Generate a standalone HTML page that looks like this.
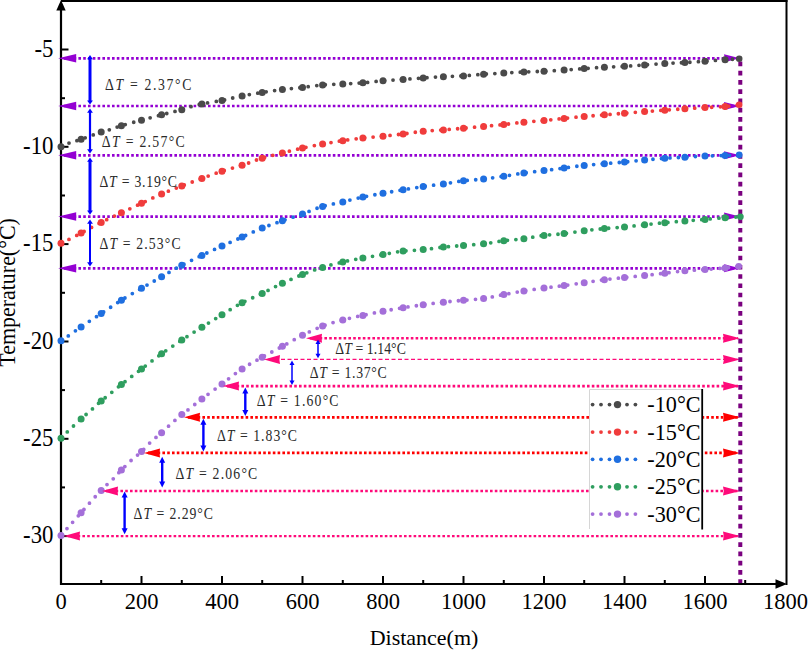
<!DOCTYPE html><html><head><meta charset="utf-8"><style>html,body{margin:0;padding:0;background:#fff;overflow:hidden;}svg{display:block;}text{font-family:"Liberation Serif",serif;}</style></head><body>
<svg width="808" height="651" viewBox="0 0 808 651">
<rect width="808" height="651" fill="#fff"/>
<line x1="61" y1="1" x2="787.5" y2="1" stroke="#000" stroke-width="2"/>
<line x1="786.5" y1="0" x2="786.5" y2="585" stroke="#000" stroke-width="2"/>
<line x1="61" y1="8" x2="61" y2="585" stroke="#000" stroke-width="2.2"/>
<line x1="60" y1="584" x2="778" y2="584" stroke="#000" stroke-width="2.2"/>
<path d="M61,0 L56.3,10.5 L65.7,10.5 Z" fill="#000"/>
<path d="M787,584 L775.5,579.3 L775.5,588.7 Z" fill="#000"/>
<line x1="62" y1="49.5" x2="68.5" y2="49.5" stroke="#000" stroke-width="2"/>
<line x1="62" y1="98.2" x2="65.0" y2="98.2" stroke="#000" stroke-width="2"/>
<line x1="62" y1="146.8" x2="68.5" y2="146.8" stroke="#000" stroke-width="2"/>
<line x1="62" y1="195.5" x2="65.0" y2="195.5" stroke="#000" stroke-width="2"/>
<line x1="62" y1="244.1" x2="68.5" y2="244.1" stroke="#000" stroke-width="2"/>
<line x1="62" y1="292.8" x2="65.0" y2="292.8" stroke="#000" stroke-width="2"/>
<line x1="62" y1="341.5" x2="68.5" y2="341.5" stroke="#000" stroke-width="2"/>
<line x1="62" y1="390.1" x2="65.0" y2="390.1" stroke="#000" stroke-width="2"/>
<line x1="62" y1="438.8" x2="68.5" y2="438.8" stroke="#000" stroke-width="2"/>
<line x1="62" y1="487.4" x2="65.0" y2="487.4" stroke="#000" stroke-width="2"/>
<line x1="62" y1="536.1" x2="68.5" y2="536.1" stroke="#000" stroke-width="2"/>
<line x1="101.2" y1="583" x2="101.2" y2="580.0" stroke="#000" stroke-width="2"/>
<line x1="141.5" y1="583" x2="141.5" y2="576.0" stroke="#000" stroke-width="2"/>
<line x1="181.8" y1="583" x2="181.8" y2="580.0" stroke="#000" stroke-width="2"/>
<line x1="222.0" y1="583" x2="222.0" y2="576.0" stroke="#000" stroke-width="2"/>
<line x1="262.2" y1="583" x2="262.2" y2="580.0" stroke="#000" stroke-width="2"/>
<line x1="302.5" y1="583" x2="302.5" y2="576.0" stroke="#000" stroke-width="2"/>
<line x1="342.8" y1="583" x2="342.8" y2="580.0" stroke="#000" stroke-width="2"/>
<line x1="383.0" y1="583" x2="383.0" y2="576.0" stroke="#000" stroke-width="2"/>
<line x1="423.2" y1="583" x2="423.2" y2="580.0" stroke="#000" stroke-width="2"/>
<line x1="463.5" y1="583" x2="463.5" y2="576.0" stroke="#000" stroke-width="2"/>
<line x1="503.8" y1="583" x2="503.8" y2="580.0" stroke="#000" stroke-width="2"/>
<line x1="544.0" y1="583" x2="544.0" y2="576.0" stroke="#000" stroke-width="2"/>
<line x1="584.2" y1="583" x2="584.2" y2="580.0" stroke="#000" stroke-width="2"/>
<line x1="624.5" y1="583" x2="624.5" y2="576.0" stroke="#000" stroke-width="2"/>
<line x1="664.8" y1="583" x2="664.8" y2="580.0" stroke="#000" stroke-width="2"/>
<line x1="705.0" y1="583" x2="705.0" y2="576.0" stroke="#000" stroke-width="2"/>
<line x1="745.2" y1="583" x2="745.2" y2="580.0" stroke="#000" stroke-width="2"/>
<line x1="64" y1="58.3" x2="738.0" y2="58.3" stroke="#9400d3" stroke-width="2.7" stroke-dasharray="2.6 2.2"/>
<line x1="64" y1="106.0" x2="738.0" y2="106.0" stroke="#9400d3" stroke-width="2.7" stroke-dasharray="2.6 2.2"/>
<line x1="64" y1="155.3" x2="738.0" y2="155.3" stroke="#9400d3" stroke-width="2.7" stroke-dasharray="2.6 2.2"/>
<line x1="64" y1="216.6" x2="738.0" y2="216.6" stroke="#9400d3" stroke-width="2.7" stroke-dasharray="2.6 2.2"/>
<line x1="64" y1="268.3" x2="738.0" y2="268.3" stroke="#9400d3" stroke-width="2.7" stroke-dasharray="2.6 2.2"/>
<line x1="310.0" y1="338.2" x2="738.0" y2="338.2" stroke="#ff0a7a" stroke-width="2.6" stroke-dasharray="2.6 2.2"/>
<line x1="268.0" y1="359.4" x2="738.0" y2="359.4" stroke="#ff0a7a" stroke-width="1.3" stroke-dasharray="4 2.5"/>
<line x1="227.0" y1="386.1" x2="738.0" y2="386.1" stroke="#ff0a7a" stroke-width="2.6" stroke-dasharray="2.6 2.2"/>
<line x1="188.0" y1="417.3" x2="738.0" y2="417.3" stroke="#ff0000" stroke-width="2.8" stroke-dasharray="2.6 2.2"/>
<line x1="148.0" y1="452.9" x2="738.0" y2="452.9" stroke="#ff0000" stroke-width="2.8" stroke-dasharray="2.6 2.2"/>
<line x1="106.0" y1="491.0" x2="738.0" y2="491.0" stroke="#ff0a7a" stroke-width="2.4" stroke-dasharray="2.6 2.2"/>
<line x1="68.0" y1="536.1" x2="738.0" y2="536.1" stroke="#ff0a7a" stroke-width="2.4" stroke-dasharray="2.6 2.2"/>
<path d="M740.0,338.2 L723.0,333.7 Q724.5,338.2 723.0,342.7 Z" fill="#ff0a7a"/>
<path d="M740.0,359.4 L723.0,354.9 Q724.5,359.4 723.0,363.9 Z" fill="#ff0a7a"/>
<path d="M740.0,386.1 L723.0,381.6 Q724.5,386.1 723.0,390.6 Z" fill="#ff0a7a"/>
<path d="M740.0,417.3 L723.0,412.8 Q724.5,417.3 723.0,421.8 Z" fill="#ff0000"/>
<path d="M740.0,452.9 L723.0,448.4 Q724.5,452.9 723.0,457.4 Z" fill="#ff0000"/>
<path d="M740.0,491.0 L723.0,486.5 Q724.5,491.0 723.0,495.5 Z" fill="#ff0a7a"/>
<path d="M740.0,536.1 L723.0,531.6 Q724.5,536.1 723.0,540.6 Z" fill="#ff0a7a"/>
<line x1="740.3" y1="57" x2="740.3" y2="583" stroke="#7a007f" stroke-width="4" stroke-dasharray="4.7 4.545" stroke-dashoffset="4.745"/>
<path d="M58.2,58.3 L76.2,54.0 L76.2,62.5 Z" fill="#9400d3"/>
<path d="M740.0,58.3 L724.0,54.3 Q725.5,58.3 724.0,62.3 Z" fill="#9400d3"/>
<path d="M58.2,106.0 L76.2,101.8 L76.2,110.2 Z" fill="#9400d3"/>
<path d="M740.0,106.0 L724.0,102.0 Q725.5,106.0 724.0,110.0 Z" fill="#9400d3"/>
<path d="M58.2,155.3 L76.2,151.1 L76.2,159.6 Z" fill="#9400d3"/>
<path d="M740.0,155.3 L724.0,151.3 Q725.5,155.3 724.0,159.3 Z" fill="#9400d3"/>
<path d="M58.2,216.6 L76.2,212.3 L76.2,220.8 Z" fill="#9400d3"/>
<path d="M740.0,216.6 L724.0,212.6 Q725.5,216.6 724.0,220.6 Z" fill="#9400d3"/>
<path d="M58.2,268.3 L76.2,264.1 L76.2,272.6 Z" fill="#9400d3"/>
<path d="M740.0,268.3 L724.0,264.3 Q725.5,268.3 724.0,272.3 Z" fill="#9400d3"/>
<path d="M61.4,146.8 C62.6,146.2 65.3,144.5 68.5,143.3 C71.7,142.1 75.5,141.2 80.8,139.4 C86.1,137.6 95.4,134.0 100.2,132.4 C105.0,130.8 106.3,130.8 109.8,129.7 C113.3,128.6 116.2,127.2 121.3,125.7 C126.4,124.2 133.9,122.2 140.6,120.4 C147.3,118.6 155.0,116.5 161.7,114.8 C168.4,113.0 174.8,111.6 181.0,109.9 C187.2,108.2 191.7,106.2 198.6,104.6 C205.5,103.0 215.2,101.8 222.3,100.4 C229.4,99.0 234.8,97.3 241.4,96.0 C248.0,94.7 254.9,93.7 261.6,92.6 C268.3,91.5 275.2,90.4 281.8,89.6 C288.4,88.8 294.3,88.4 301.0,87.6 C307.7,86.8 315.3,85.6 322.2,85.0 C329.1,84.4 335.6,84.3 342.3,84.0 C349.0,83.7 355.5,83.4 362.2,82.9 C368.9,82.4 375.9,81.4 382.6,80.8 C389.3,80.2 395.8,79.9 402.5,79.4 C409.2,78.9 416.1,78.5 422.9,78.0 C429.7,77.5 436.4,77.0 443.1,76.7 C449.8,76.4 456.2,76.3 462.9,75.9 C469.6,75.5 476.6,74.7 483.4,74.2 C490.2,73.7 497.1,73.5 503.8,73.1 C510.5,72.7 516.9,72.3 523.6,72.0 C530.3,71.7 537.5,71.5 544.2,71.2 C551.0,70.9 557.5,70.4 564.1,70.0 C570.7,69.6 577.4,69.1 584.0,68.6 C590.6,68.1 597.2,67.6 604.0,67.2 C610.8,66.8 618.1,66.7 624.8,66.3 C631.5,65.9 637.7,65.4 644.4,64.9 C651.1,64.4 658.5,63.9 665.2,63.5 C671.9,63.1 677.9,63.0 684.5,62.6 C691.1,62.2 698.2,61.7 705.0,61.2 C711.8,60.7 719.3,60.2 725.0,59.8 C730.7,59.4 736.8,58.9 739.2,58.7" fill="none" stroke="#4a4a4a" stroke-width="3.8" stroke-linecap="round" stroke-dasharray="0 8.5"/>
<circle cx="61.0" cy="146.8" r="3.5" fill="#4a4a4a"/>
<circle cx="81.1" cy="139.3" r="3.5" fill="#4a4a4a"/>
<circle cx="101.2" cy="132.1" r="3.5" fill="#4a4a4a"/>
<circle cx="121.4" cy="125.7" r="3.5" fill="#4a4a4a"/>
<circle cx="141.5" cy="120.2" r="3.5" fill="#4a4a4a"/>
<circle cx="161.6" cy="114.8" r="3.5" fill="#4a4a4a"/>
<circle cx="181.8" cy="109.7" r="3.5" fill="#4a4a4a"/>
<circle cx="201.9" cy="104.0" r="3.5" fill="#4a4a4a"/>
<circle cx="222.0" cy="100.5" r="3.5" fill="#4a4a4a"/>
<circle cx="242.1" cy="95.9" r="3.5" fill="#4a4a4a"/>
<circle cx="262.2" cy="92.5" r="3.5" fill="#4a4a4a"/>
<circle cx="282.4" cy="89.5" r="3.5" fill="#4a4a4a"/>
<circle cx="302.5" cy="87.4" r="3.5" fill="#4a4a4a"/>
<circle cx="322.6" cy="85.0" r="3.5" fill="#4a4a4a"/>
<circle cx="342.8" cy="84.0" r="3.5" fill="#4a4a4a"/>
<circle cx="362.9" cy="82.8" r="3.5" fill="#4a4a4a"/>
<circle cx="383.0" cy="80.8" r="3.5" fill="#4a4a4a"/>
<circle cx="403.1" cy="79.4" r="3.5" fill="#4a4a4a"/>
<circle cx="423.2" cy="78.0" r="3.5" fill="#4a4a4a"/>
<circle cx="443.4" cy="76.7" r="3.5" fill="#4a4a4a"/>
<circle cx="463.5" cy="75.9" r="3.5" fill="#4a4a4a"/>
<circle cx="483.6" cy="74.2" r="3.5" fill="#4a4a4a"/>
<circle cx="503.8" cy="73.1" r="3.5" fill="#4a4a4a"/>
<circle cx="523.9" cy="72.0" r="3.5" fill="#4a4a4a"/>
<circle cx="544.0" cy="71.2" r="3.5" fill="#4a4a4a"/>
<circle cx="564.1" cy="70.0" r="3.5" fill="#4a4a4a"/>
<circle cx="584.2" cy="68.6" r="3.5" fill="#4a4a4a"/>
<circle cx="604.4" cy="67.2" r="3.5" fill="#4a4a4a"/>
<circle cx="624.5" cy="66.3" r="3.5" fill="#4a4a4a"/>
<circle cx="644.6" cy="64.9" r="3.5" fill="#4a4a4a"/>
<circle cx="664.8" cy="63.5" r="3.5" fill="#4a4a4a"/>
<circle cx="684.9" cy="62.6" r="3.5" fill="#4a4a4a"/>
<circle cx="705.0" cy="61.2" r="3.5" fill="#4a4a4a"/>
<circle cx="725.1" cy="59.8" r="3.5" fill="#4a4a4a"/>
<circle cx="739.2" cy="58.7" r="3.3" fill="#4a4a4a"/>
<path d="M61.5,243.3 C64.8,241.6 74.5,236.6 81.1,233.1 C87.6,229.6 94.2,225.9 100.8,222.6 C107.4,219.2 114.2,216.2 120.9,213.0 C127.7,209.8 134.7,206.5 141.3,203.4 C147.9,200.3 153.8,197.3 160.4,194.5 C167.0,191.7 174.0,188.9 180.8,186.3 C187.6,183.7 194.4,181.2 201.2,178.7 C208.0,176.2 214.8,173.5 221.6,171.3 C228.4,169.1 235.4,167.4 242.0,165.3 C248.6,163.2 254.5,160.5 261.1,158.5 C267.7,156.5 274.7,154.8 281.5,153.1 C288.3,151.4 295.1,149.7 301.9,148.2 C308.7,146.7 315.8,145.3 322.4,144.1 C329.0,142.9 335.2,141.8 341.8,140.8 C348.4,139.8 355.4,138.9 362.2,138.1 C369.0,137.3 375.8,136.9 382.6,136.2 C389.4,135.5 396.3,134.8 403.0,134.0 C409.7,133.2 416.2,132.0 422.9,131.3 C429.6,130.6 436.4,130.4 443.1,129.9 C449.8,129.4 456.2,128.9 462.9,128.3 C469.6,127.7 476.6,127.0 483.4,126.4 C490.2,125.8 497.1,125.2 503.8,124.5 C510.5,123.8 516.8,122.9 523.5,122.2 C530.2,121.5 537.6,121.1 544.2,120.5 C550.8,119.9 556.7,119.2 563.3,118.5 C569.9,117.8 577.1,117.1 584.0,116.5 C590.9,115.9 598.1,115.3 604.8,114.8 C611.4,114.3 617.3,113.8 623.9,113.3 C630.5,112.8 637.6,112.1 644.4,111.6 C651.2,111.1 657.9,110.7 664.6,110.2 C671.3,109.7 677.8,109.2 684.5,108.8 C691.2,108.4 698.2,108.0 705.0,107.6 C711.8,107.2 719.8,107.0 725.5,106.5 C731.2,106.0 736.9,105.1 739.2,104.8" fill="none" stroke="#f03c3c" stroke-width="3.8" stroke-linecap="round" stroke-dasharray="0 8.5"/>
<circle cx="61.0" cy="243.3" r="3.5" fill="#f03c3c"/>
<circle cx="81.1" cy="233.1" r="3.5" fill="#f03c3c"/>
<circle cx="101.2" cy="222.4" r="3.5" fill="#f03c3c"/>
<circle cx="121.4" cy="212.8" r="3.5" fill="#f03c3c"/>
<circle cx="141.5" cy="203.3" r="3.5" fill="#f03c3c"/>
<circle cx="161.6" cy="194.0" r="3.5" fill="#f03c3c"/>
<circle cx="181.8" cy="185.9" r="3.5" fill="#f03c3c"/>
<circle cx="201.9" cy="178.5" r="3.5" fill="#f03c3c"/>
<circle cx="222.0" cy="171.2" r="3.5" fill="#f03c3c"/>
<circle cx="242.1" cy="165.3" r="3.5" fill="#f03c3c"/>
<circle cx="262.2" cy="158.2" r="3.5" fill="#f03c3c"/>
<circle cx="282.4" cy="152.9" r="3.5" fill="#f03c3c"/>
<circle cx="302.5" cy="148.1" r="3.5" fill="#f03c3c"/>
<circle cx="322.6" cy="144.1" r="3.5" fill="#f03c3c"/>
<circle cx="342.8" cy="140.7" r="3.5" fill="#f03c3c"/>
<circle cx="362.9" cy="138.0" r="3.5" fill="#f03c3c"/>
<circle cx="383.0" cy="136.2" r="3.5" fill="#f03c3c"/>
<circle cx="403.1" cy="134.0" r="3.5" fill="#f03c3c"/>
<circle cx="423.2" cy="131.3" r="3.5" fill="#f03c3c"/>
<circle cx="443.4" cy="129.9" r="3.5" fill="#f03c3c"/>
<circle cx="463.5" cy="128.2" r="3.5" fill="#f03c3c"/>
<circle cx="483.6" cy="126.4" r="3.5" fill="#f03c3c"/>
<circle cx="503.8" cy="124.5" r="3.5" fill="#f03c3c"/>
<circle cx="523.9" cy="122.2" r="3.5" fill="#f03c3c"/>
<circle cx="544.0" cy="120.5" r="3.5" fill="#f03c3c"/>
<circle cx="564.1" cy="118.4" r="3.5" fill="#f03c3c"/>
<circle cx="584.2" cy="116.5" r="3.5" fill="#f03c3c"/>
<circle cx="604.4" cy="114.8" r="3.5" fill="#f03c3c"/>
<circle cx="624.5" cy="113.3" r="3.5" fill="#f03c3c"/>
<circle cx="644.6" cy="111.6" r="3.5" fill="#f03c3c"/>
<circle cx="664.8" cy="110.2" r="3.5" fill="#f03c3c"/>
<circle cx="684.9" cy="108.8" r="3.5" fill="#f03c3c"/>
<circle cx="705.0" cy="107.6" r="3.5" fill="#f03c3c"/>
<circle cx="725.1" cy="106.5" r="3.5" fill="#f03c3c"/>
<circle cx="739.2" cy="104.8" r="3.3" fill="#f03c3c"/>
<path d="M61.5,340.8 C64.7,338.5 74.0,331.7 80.6,327.2 C87.1,322.7 94.1,318.3 100.8,313.9 C107.5,309.5 113.8,304.9 120.6,300.7 C127.3,296.4 134.7,292.3 141.3,288.4 C147.9,284.5 153.8,281.3 160.4,277.5 C167.0,273.7 174.0,269.4 180.8,265.8 C187.6,262.2 194.4,259.0 201.2,255.7 C208.0,252.4 214.8,249.3 221.6,246.2 C228.4,243.1 235.4,240.1 242.0,237.2 C248.6,234.2 254.5,231.2 261.1,228.5 C267.7,225.8 274.7,223.5 281.5,221.1 C288.3,218.7 295.1,216.5 301.9,214.1 C308.7,211.7 315.6,208.5 322.3,206.5 C329.0,204.5 335.2,203.7 341.8,202.1 C348.4,200.5 355.4,198.6 362.2,197.2 C369.0,195.8 375.8,194.6 382.6,193.4 C389.4,192.2 396.3,190.9 403.0,189.8 C409.7,188.7 416.2,187.6 422.9,186.6 C429.6,185.6 436.4,184.8 443.1,183.9 C449.8,183.0 456.2,181.7 462.9,180.9 C469.6,180.1 476.6,179.8 483.4,179.0 C490.2,178.2 497.1,177.2 503.8,176.2 C510.5,175.2 516.8,174.0 523.5,173.1 C530.2,172.2 537.4,171.4 544.2,170.6 C551.0,169.8 557.5,168.9 564.1,168.0 C570.7,167.1 577.4,166.1 584.0,165.4 C590.6,164.7 597.1,164.3 604.0,163.7 C610.9,163.1 618.6,162.6 625.3,162.0 C632.0,161.4 637.8,160.6 644.4,160.0 C651.0,159.4 657.9,158.8 664.6,158.3 C671.3,157.8 677.8,157.6 684.5,157.2 C691.2,156.8 698.2,156.3 705.0,156.0 C711.8,155.7 719.8,155.7 725.5,155.5 C731.2,155.3 736.9,155.0 739.2,154.9" fill="none" stroke="#1f6fe0" stroke-width="3.8" stroke-linecap="round" stroke-dasharray="0 8.5"/>
<circle cx="61.0" cy="340.8" r="3.5" fill="#1f6fe0"/>
<circle cx="81.1" cy="326.9" r="3.5" fill="#1f6fe0"/>
<circle cx="101.2" cy="313.6" r="3.5" fill="#1f6fe0"/>
<circle cx="121.4" cy="300.2" r="3.5" fill="#1f6fe0"/>
<circle cx="141.5" cy="288.3" r="3.5" fill="#1f6fe0"/>
<circle cx="161.6" cy="276.8" r="3.5" fill="#1f6fe0"/>
<circle cx="181.8" cy="265.3" r="3.5" fill="#1f6fe0"/>
<circle cx="201.9" cy="255.4" r="3.5" fill="#1f6fe0"/>
<circle cx="222.0" cy="246.0" r="3.5" fill="#1f6fe0"/>
<circle cx="242.1" cy="237.1" r="3.5" fill="#1f6fe0"/>
<circle cx="262.2" cy="228.1" r="3.5" fill="#1f6fe0"/>
<circle cx="282.4" cy="220.8" r="3.5" fill="#1f6fe0"/>
<circle cx="302.5" cy="213.9" r="3.5" fill="#1f6fe0"/>
<circle cx="322.6" cy="206.4" r="3.5" fill="#1f6fe0"/>
<circle cx="342.8" cy="201.9" r="3.5" fill="#1f6fe0"/>
<circle cx="362.9" cy="197.1" r="3.5" fill="#1f6fe0"/>
<circle cx="383.0" cy="193.3" r="3.5" fill="#1f6fe0"/>
<circle cx="403.1" cy="189.8" r="3.5" fill="#1f6fe0"/>
<circle cx="423.2" cy="186.6" r="3.5" fill="#1f6fe0"/>
<circle cx="443.4" cy="183.9" r="3.5" fill="#1f6fe0"/>
<circle cx="463.5" cy="180.8" r="3.5" fill="#1f6fe0"/>
<circle cx="483.6" cy="179.0" r="3.5" fill="#1f6fe0"/>
<circle cx="503.8" cy="176.2" r="3.5" fill="#1f6fe0"/>
<circle cx="523.9" cy="173.1" r="3.5" fill="#1f6fe0"/>
<circle cx="544.0" cy="170.6" r="3.5" fill="#1f6fe0"/>
<circle cx="564.1" cy="168.0" r="3.5" fill="#1f6fe0"/>
<circle cx="584.2" cy="165.4" r="3.5" fill="#1f6fe0"/>
<circle cx="604.4" cy="163.7" r="3.5" fill="#1f6fe0"/>
<circle cx="624.5" cy="162.1" r="3.5" fill="#1f6fe0"/>
<circle cx="644.6" cy="160.0" r="3.5" fill="#1f6fe0"/>
<circle cx="664.8" cy="158.3" r="3.5" fill="#1f6fe0"/>
<circle cx="684.9" cy="157.2" r="3.5" fill="#1f6fe0"/>
<circle cx="705.0" cy="156.0" r="3.5" fill="#1f6fe0"/>
<circle cx="725.1" cy="155.5" r="3.5" fill="#1f6fe0"/>
<circle cx="739.2" cy="154.9" r="3.3" fill="#1f6fe0"/>
<path d="M61.8,438.3 C62.6,437.3 63.8,435.4 66.9,432.3 C70.0,429.2 76.2,423.4 80.5,419.5 C84.8,415.6 89.2,411.8 92.5,408.9 C95.8,405.9 95.6,405.7 100.3,401.8 C105.0,397.9 113.7,390.7 120.4,385.3 C127.1,379.9 133.9,374.8 140.7,369.6 C147.5,364.4 154.2,359.1 161.0,354.2 C167.8,349.3 174.7,344.8 181.5,340.3 C188.3,335.8 195.1,331.4 201.8,327.2 C208.5,323.0 215.1,318.9 221.7,314.9 C228.3,310.9 234.5,306.8 241.2,303.2 C247.9,299.6 255.3,296.8 262.0,293.5 C268.7,290.2 274.8,286.8 281.5,283.7 C288.2,280.6 295.6,277.3 302.3,274.6 C309.0,271.9 315.0,269.7 321.7,267.6 C328.4,265.5 335.8,263.7 342.5,262.1 C349.2,260.5 355.3,259.4 362.0,258.2 C368.7,256.9 376.1,255.8 382.8,254.6 C389.5,253.4 395.7,252.0 402.3,251.2 C408.9,250.4 415.7,250.4 422.6,249.7 C429.5,249.0 437.0,247.8 443.7,247.1 C450.4,246.4 455.9,246.1 462.6,245.5 C469.3,244.9 476.9,244.6 483.7,243.8 C490.5,243.0 496.8,241.7 503.4,240.8 C510.0,240.0 516.9,239.6 523.6,238.7 C530.3,237.8 537.1,236.2 543.8,235.4 C550.5,234.6 556.8,234.5 563.6,233.7 C570.4,232.9 577.9,231.5 584.7,230.7 C591.5,229.8 597.8,229.2 604.4,228.6 C611.0,228.0 617.9,227.5 624.6,226.9 C631.3,226.3 638.1,225.5 644.8,224.8 C651.5,224.1 658.0,223.3 664.6,222.7 C671.2,222.1 677.7,221.6 684.4,221.0 C691.1,220.4 697.7,220.0 704.6,219.4 C711.5,218.8 719.7,218.1 725.7,217.7 C731.7,217.3 738.0,217.0 740.4,216.8" fill="none" stroke="#2f9e5f" stroke-width="3.8" stroke-linecap="round" stroke-dasharray="0 8.5"/>
<circle cx="61.0" cy="438.3" r="3.5" fill="#2f9e5f"/>
<circle cx="81.1" cy="418.9" r="3.5" fill="#2f9e5f"/>
<circle cx="101.2" cy="401.0" r="3.5" fill="#2f9e5f"/>
<circle cx="121.4" cy="384.5" r="3.5" fill="#2f9e5f"/>
<circle cx="141.5" cy="369.0" r="3.5" fill="#2f9e5f"/>
<circle cx="161.6" cy="353.8" r="3.5" fill="#2f9e5f"/>
<circle cx="181.8" cy="340.1" r="3.5" fill="#2f9e5f"/>
<circle cx="201.9" cy="327.2" r="3.5" fill="#2f9e5f"/>
<circle cx="222.0" cy="314.7" r="3.5" fill="#2f9e5f"/>
<circle cx="242.1" cy="302.8" r="3.5" fill="#2f9e5f"/>
<circle cx="262.2" cy="293.4" r="3.5" fill="#2f9e5f"/>
<circle cx="282.4" cy="283.3" r="3.5" fill="#2f9e5f"/>
<circle cx="302.5" cy="274.5" r="3.5" fill="#2f9e5f"/>
<circle cx="322.6" cy="267.4" r="3.5" fill="#2f9e5f"/>
<circle cx="342.8" cy="262.1" r="3.5" fill="#2f9e5f"/>
<circle cx="362.9" cy="258.0" r="3.5" fill="#2f9e5f"/>
<circle cx="383.0" cy="254.6" r="3.5" fill="#2f9e5f"/>
<circle cx="403.1" cy="251.1" r="3.5" fill="#2f9e5f"/>
<circle cx="423.2" cy="249.6" r="3.5" fill="#2f9e5f"/>
<circle cx="443.4" cy="247.1" r="3.5" fill="#2f9e5f"/>
<circle cx="463.5" cy="245.4" r="3.5" fill="#2f9e5f"/>
<circle cx="483.6" cy="243.8" r="3.5" fill="#2f9e5f"/>
<circle cx="503.8" cy="240.8" r="3.5" fill="#2f9e5f"/>
<circle cx="523.9" cy="238.7" r="3.5" fill="#2f9e5f"/>
<circle cx="544.0" cy="235.4" r="3.5" fill="#2f9e5f"/>
<circle cx="564.1" cy="233.6" r="3.5" fill="#2f9e5f"/>
<circle cx="584.2" cy="230.8" r="3.5" fill="#2f9e5f"/>
<circle cx="604.4" cy="228.6" r="3.5" fill="#2f9e5f"/>
<circle cx="624.5" cy="226.9" r="3.5" fill="#2f9e5f"/>
<circle cx="644.6" cy="224.8" r="3.5" fill="#2f9e5f"/>
<circle cx="664.8" cy="222.7" r="3.5" fill="#2f9e5f"/>
<circle cx="684.9" cy="221.0" r="3.5" fill="#2f9e5f"/>
<circle cx="705.0" cy="219.4" r="3.5" fill="#2f9e5f"/>
<circle cx="725.1" cy="217.7" r="3.5" fill="#2f9e5f"/>
<circle cx="740.4" cy="216.8" r="3.3" fill="#2f9e5f"/>
<path d="M62.0,535.5 C62.8,534.4 65.2,530.9 66.9,528.7 C68.7,526.5 70.1,525.1 72.5,522.4 C74.9,519.7 78.6,515.5 81.4,512.4 C84.2,509.2 86.1,507.0 89.2,503.5 C92.3,500.0 97.3,494.4 100.3,491.3 C103.3,488.2 104.8,486.8 107.0,484.6 C109.2,482.5 111.5,480.6 113.7,478.4 C115.9,476.2 117.3,474.2 120.3,471.2 C123.3,468.1 128.0,463.4 131.5,460.1 C135.0,456.8 138.2,454.8 141.5,451.6 C144.8,448.5 148.2,444.3 151.5,441.2 C154.8,438.1 158.3,435.7 161.5,432.9 C164.7,430.1 167.2,427.4 170.4,424.5 C173.6,421.6 177.2,418.2 180.4,415.6 C183.6,413.0 185.7,411.7 189.3,408.9 C192.9,406.1 196.4,403.1 201.8,399.0 C207.2,394.9 215.0,389.1 221.6,384.2 C228.2,379.2 234.8,373.7 241.4,369.3 C248.0,364.9 254.6,361.5 261.2,357.8 C267.8,354.1 274.2,350.8 281.0,347.1 C287.8,343.4 294.9,339.1 301.8,335.6 C308.7,332.1 315.9,328.7 322.6,326.1 C329.3,323.5 335.4,321.9 341.9,320.2 C348.4,318.4 354.9,317.1 361.7,315.6 C368.5,314.1 375.6,312.6 382.5,311.3 C389.4,310.0 396.5,308.8 403.3,307.7 C410.1,306.6 416.5,305.7 423.1,304.8 C429.7,303.9 436.3,302.9 442.9,302.2 C449.5,301.5 455.9,301.0 462.7,300.4 C469.5,299.8 476.8,299.3 483.5,298.4 C490.2,297.5 496.2,296.0 502.8,294.8 C509.4,293.6 516.5,292.1 523.4,291.0 C530.3,289.9 537.5,288.9 544.2,288.0 C550.9,287.1 556.8,286.5 563.5,285.6 C570.2,284.7 577.5,283.7 584.3,282.7 C591.1,281.7 597.7,280.5 604.4,279.7 C611.1,278.9 617.7,278.3 624.3,277.6 C630.9,276.9 637.5,276.2 644.2,275.5 C650.9,274.8 657.6,274.0 664.4,273.2 C671.2,272.4 678.5,271.4 685.2,270.8 C691.9,270.2 697.6,270.1 704.5,269.6 C711.4,269.1 721.1,268.4 726.8,267.8 C732.5,267.2 736.7,266.6 738.7,266.3" fill="none" stroke="#a46fd9" stroke-width="3.8" stroke-linecap="round" stroke-dasharray="0 8.5"/>
<circle cx="61.0" cy="535.5" r="3.5" fill="#a46fd9"/>
<circle cx="81.1" cy="512.7" r="3.5" fill="#a46fd9"/>
<circle cx="101.2" cy="490.4" r="3.5" fill="#a46fd9"/>
<circle cx="121.4" cy="470.1" r="3.5" fill="#a46fd9"/>
<circle cx="141.5" cy="451.6" r="3.5" fill="#a46fd9"/>
<circle cx="161.6" cy="432.8" r="3.5" fill="#a46fd9"/>
<circle cx="181.8" cy="414.6" r="3.5" fill="#a46fd9"/>
<circle cx="201.9" cy="398.9" r="3.5" fill="#a46fd9"/>
<circle cx="222.0" cy="383.9" r="3.5" fill="#a46fd9"/>
<circle cx="242.1" cy="368.9" r="3.5" fill="#a46fd9"/>
<circle cx="262.2" cy="357.2" r="3.5" fill="#a46fd9"/>
<circle cx="282.4" cy="346.3" r="3.5" fill="#a46fd9"/>
<circle cx="302.5" cy="335.3" r="3.5" fill="#a46fd9"/>
<circle cx="322.6" cy="326.1" r="3.5" fill="#a46fd9"/>
<circle cx="342.8" cy="320.0" r="3.5" fill="#a46fd9"/>
<circle cx="362.9" cy="315.4" r="3.5" fill="#a46fd9"/>
<circle cx="383.0" cy="311.2" r="3.5" fill="#a46fd9"/>
<circle cx="403.1" cy="307.7" r="3.5" fill="#a46fd9"/>
<circle cx="423.2" cy="304.8" r="3.5" fill="#a46fd9"/>
<circle cx="443.4" cy="302.2" r="3.5" fill="#a46fd9"/>
<circle cx="463.5" cy="300.3" r="3.5" fill="#a46fd9"/>
<circle cx="483.6" cy="298.4" r="3.5" fill="#a46fd9"/>
<circle cx="503.8" cy="294.6" r="3.5" fill="#a46fd9"/>
<circle cx="523.9" cy="290.9" r="3.5" fill="#a46fd9"/>
<circle cx="544.0" cy="288.0" r="3.5" fill="#a46fd9"/>
<circle cx="564.1" cy="285.5" r="3.5" fill="#a46fd9"/>
<circle cx="584.2" cy="282.7" r="3.5" fill="#a46fd9"/>
<circle cx="604.4" cy="279.7" r="3.5" fill="#a46fd9"/>
<circle cx="624.5" cy="277.6" r="3.5" fill="#a46fd9"/>
<circle cx="644.6" cy="275.5" r="3.5" fill="#a46fd9"/>
<circle cx="664.8" cy="273.2" r="3.5" fill="#a46fd9"/>
<circle cx="684.9" cy="270.8" r="3.5" fill="#a46fd9"/>
<circle cx="705.0" cy="269.6" r="3.5" fill="#a46fd9"/>
<circle cx="725.1" cy="267.9" r="3.5" fill="#a46fd9"/>
<circle cx="738.7" cy="266.3" r="3.3" fill="#a46fd9"/>
<path d="M306.0,338.2 L322.0,333.7 Q321.0,338.2 322.0,342.7 Z" fill="#ff0a7a"/>
<path d="M264.0,359.4 L280.0,354.9 Q279.0,359.4 280.0,363.9 Z" fill="#ff0a7a"/>
<path d="M223.0,386.1 L239.0,381.6 Q238.0,386.1 239.0,390.6 Z" fill="#ff0a7a"/>
<path d="M184.0,417.3 L200.0,412.8 Q199.0,417.3 200.0,421.8 Z" fill="#ff0000"/>
<path d="M144.0,452.9 L160.0,448.4 Q159.0,452.9 160.0,457.4 Z" fill="#ff0000"/>
<path d="M102.0,491.0 L118.0,486.5 Q117.0,491.0 118.0,495.5 Z" fill="#ff0a7a"/>
<path d="M64.0,536.1 L80.0,531.6 Q79.0,536.1 80.0,540.6 Z" fill="#ff0a7a"/>
<line x1="90.0" y1="58.2" x2="90.0" y2="101.4" stroke="#0000ff" stroke-width="3.0"/><path d="M90.0,55.0 L87.1,59.2 L92.9,59.2 Z" fill="#0000ff"/><path d="M90.0,104.6 L87.1,100.4 L92.9,100.4 Z" fill="#0000ff"/>
<line x1="90.0" y1="111.8" x2="90.0" y2="150.3" stroke="#0000ff" stroke-width="2.2"/><path d="M90.0,108.6 L87.1,112.8 L92.9,112.8 Z" fill="#0000ff"/><path d="M90.0,153.5 L87.1,149.3 L92.9,149.3 Z" fill="#0000ff"/>
<line x1="90.0" y1="160.7" x2="90.0" y2="211.6" stroke="#0000ff" stroke-width="3.0"/><path d="M90.0,157.5 L87.1,161.7 L92.9,161.7 Z" fill="#0000ff"/><path d="M90.0,214.8 L87.1,210.6 L92.9,210.6 Z" fill="#0000ff"/>
<line x1="90.0" y1="222.7" x2="90.0" y2="263.3" stroke="#0000ff" stroke-width="2.0"/><path d="M90.0,219.5 L87.1,223.7 L92.9,223.7 Z" fill="#0000ff"/><path d="M90.0,266.5 L87.1,262.3 L92.9,262.3 Z" fill="#0000ff"/>
<line x1="124.6" y1="496.6" x2="124.6" y2="529.2" stroke="#0000ff" stroke-width="2.4"/><path d="M124.6,491.6 L121.6,497.6 L127.6,497.6 Z" fill="#0000ff"/><path d="M124.6,534.2 L121.6,528.2 L127.6,528.2 Z" fill="#0000ff"/>
<line x1="162.2" y1="461.8" x2="162.2" y2="482.5" stroke="#0000ff" stroke-width="2.4"/><path d="M162.2,456.8 L159.2,462.8 L165.2,462.8 Z" fill="#0000ff"/><path d="M162.2,487.5 L159.2,481.5 L165.2,481.5 Z" fill="#0000ff"/>
<line x1="203.4" y1="423.8" x2="203.4" y2="446.6" stroke="#0000ff" stroke-width="2.4"/><path d="M203.4,418.8 L200.4,424.8 L206.4,424.8 Z" fill="#0000ff"/><path d="M203.4,451.6 L200.4,445.6 L206.4,445.6 Z" fill="#0000ff"/>
<line x1="245.3" y1="392.5" x2="245.3" y2="411.0" stroke="#0000ff" stroke-width="2.4"/><path d="M245.3,387.5 L242.3,393.5 L248.3,393.5 Z" fill="#0000ff"/><path d="M245.3,416.0 L242.3,410.0 L248.3,410.0 Z" fill="#0000ff"/>
<line x1="292.0" y1="364.1" x2="292.0" y2="381.5" stroke="#0000ff" stroke-width="1.5"/><path d="M292.0,360.6 L289.5,365.1 L294.5,365.1 Z" fill="#0000ff"/><path d="M292.0,385.0 L289.5,380.5 L294.5,380.5 Z" fill="#0000ff"/>
<line x1="318.0" y1="343.1" x2="318.0" y2="354.8" stroke="#0000ff" stroke-width="1.5"/><path d="M318.0,339.6 L315.5,344.1 L320.5,344.1 Z" fill="#0000ff"/><path d="M318.0,358.3 L315.5,353.8 L320.5,353.8 Z" fill="#0000ff"/>
<text transform="translate(105.0,90.2) scale(0.80,1)" x="0" y="0" font-size="17.2" fill="#2a2a2a" textLength="108.0" lengthAdjust="spacing">&#916;<tspan font-style="italic">T</tspan> = 2.37&#176;C</text>
<text transform="translate(101.8,146.8) scale(0.80,1)" x="0" y="0" font-size="17.2" fill="#2a2a2a" textLength="103.6" lengthAdjust="spacing">&#916;<tspan font-style="italic">T</tspan> = 2.57&#176;C</text>
<text transform="translate(99.4,186.8) scale(0.80,1)" x="0" y="0" font-size="17.2" fill="#2a2a2a" textLength="97.0" lengthAdjust="spacing">&#916;<tspan font-style="italic">T</tspan> = 3.19&#176;C</text>
<text transform="translate(99.4,249.3) scale(0.80,1)" x="0" y="0" font-size="17.2" fill="#2a2a2a" textLength="101.5" lengthAdjust="spacing">&#916;<tspan font-style="italic">T</tspan> = 2.53&#176;C</text>
<text transform="translate(133.6,518.5) scale(0.80,1)" x="0" y="0" font-size="17.2" fill="#2a2a2a" textLength="99.2" lengthAdjust="spacing">&#916;<tspan font-style="italic">T</tspan> = 2.29&#176;C</text>
<text transform="translate(175.6,479.1) scale(0.80,1)" x="0" y="0" font-size="17.2" fill="#2a2a2a" textLength="102.1" lengthAdjust="spacing">&#916;<tspan font-style="italic">T</tspan> = 2.06&#176;C</text>
<text transform="translate(217.0,440.9) scale(0.80,1)" x="0" y="0" font-size="17.2" fill="#2a2a2a" textLength="100.0" lengthAdjust="spacing">&#916;<tspan font-style="italic">T</tspan> = 1.83&#176;C</text>
<text transform="translate(256.7,406.2) scale(0.80,1)" x="0" y="0" font-size="17.2" fill="#2a2a2a" textLength="102.3" lengthAdjust="spacing">&#916;<tspan font-style="italic">T</tspan> = 1.60&#176;C</text>
<text transform="translate(309.7,377.8) scale(0.80,1)" x="0" y="0" font-size="17.2" fill="#2a2a2a" textLength="96.3" lengthAdjust="spacing">&#916;<tspan font-style="italic">T</tspan> = 1.37&#176;C</text>
<text transform="translate(335.3,353.6) scale(0.80,1)" x="0" y="0" font-size="17.2" fill="#2a2a2a" textLength="88.2" lengthAdjust="spacing">&#916;<tspan font-style="italic">T</tspan> = 1.14&#176;C</text>
<rect x="589" y="389" width="113" height="140" fill="#fff"/>
<path d="M589.5,529 V389.5 H702" fill="none" stroke="#d6d6d6" stroke-width="1"/>
<line x1="702.2" y1="389" x2="702.2" y2="529.5" stroke="#000" stroke-width="1.8"/>
<circle cx="592.6" cy="404.6" r="1.9" fill="#4a4a4a"/>
<circle cx="601.0" cy="404.6" r="1.9" fill="#4a4a4a"/>
<circle cx="609.5" cy="404.6" r="1.9" fill="#4a4a4a"/>
<circle cx="627.0" cy="404.6" r="1.9" fill="#4a4a4a"/>
<circle cx="635.4" cy="404.6" r="1.9" fill="#4a4a4a"/>
<circle cx="617.5" cy="404.6" r="3.7" fill="#4a4a4a"/>
<text transform="translate(647.3,412.2) scale(0.965,1)" x="0" y="0" font-size="23" fill="#000">-10&#176;C</text>
<circle cx="592.6" cy="432.1" r="1.9" fill="#f03c3c"/>
<circle cx="601.0" cy="432.1" r="1.9" fill="#f03c3c"/>
<circle cx="609.5" cy="432.1" r="1.9" fill="#f03c3c"/>
<circle cx="627.0" cy="432.1" r="1.9" fill="#f03c3c"/>
<circle cx="635.4" cy="432.1" r="1.9" fill="#f03c3c"/>
<circle cx="617.5" cy="432.1" r="3.7" fill="#f03c3c"/>
<text transform="translate(647.3,439.7) scale(0.965,1)" x="0" y="0" font-size="23" fill="#000">-15&#176;C</text>
<circle cx="592.6" cy="459.3" r="1.9" fill="#1f6fe0"/>
<circle cx="601.0" cy="459.3" r="1.9" fill="#1f6fe0"/>
<circle cx="609.5" cy="459.3" r="1.9" fill="#1f6fe0"/>
<circle cx="627.0" cy="459.3" r="1.9" fill="#1f6fe0"/>
<circle cx="635.4" cy="459.3" r="1.9" fill="#1f6fe0"/>
<circle cx="617.5" cy="459.3" r="3.7" fill="#1f6fe0"/>
<text transform="translate(647.3,466.9) scale(0.965,1)" x="0" y="0" font-size="23" fill="#000">-20&#176;C</text>
<circle cx="592.6" cy="486.8" r="1.9" fill="#2f9e5f"/>
<circle cx="601.0" cy="486.8" r="1.9" fill="#2f9e5f"/>
<circle cx="609.5" cy="486.8" r="1.9" fill="#2f9e5f"/>
<circle cx="627.0" cy="486.8" r="1.9" fill="#2f9e5f"/>
<circle cx="635.4" cy="486.8" r="1.9" fill="#2f9e5f"/>
<circle cx="617.5" cy="486.8" r="3.7" fill="#2f9e5f"/>
<text transform="translate(647.3,494.4) scale(0.965,1)" x="0" y="0" font-size="23" fill="#000">-25&#176;C</text>
<circle cx="592.6" cy="514.1" r="1.9" fill="#a46fd9"/>
<circle cx="601.0" cy="514.1" r="1.9" fill="#a46fd9"/>
<circle cx="609.5" cy="514.1" r="1.9" fill="#a46fd9"/>
<circle cx="627.0" cy="514.1" r="1.9" fill="#a46fd9"/>
<circle cx="635.4" cy="514.1" r="1.9" fill="#a46fd9"/>
<circle cx="617.5" cy="514.1" r="3.7" fill="#a46fd9"/>
<text transform="translate(647.3,521.7) scale(0.965,1)" x="0" y="0" font-size="23" fill="#000">-30&#176;C</text>
<text transform="translate(53.5,56.8) scale(0.95,1.03)" x="0" y="0" font-size="24" text-anchor="end" fill="#000">-5</text>
<text transform="translate(53.5,154.1) scale(0.95,1.03)" x="0" y="0" font-size="24" text-anchor="end" fill="#000">-10</text>
<text transform="translate(53.5,251.4) scale(0.95,1.03)" x="0" y="0" font-size="24" text-anchor="end" fill="#000">-15</text>
<text transform="translate(53.5,348.8) scale(0.95,1.03)" x="0" y="0" font-size="24" text-anchor="end" fill="#000">-20</text>
<text transform="translate(53.5,446.1) scale(0.95,1.03)" x="0" y="0" font-size="24" text-anchor="end" fill="#000">-25</text>
<text transform="translate(53.5,543.4) scale(0.95,1.03)" x="0" y="0" font-size="24" text-anchor="end" fill="#000">-30</text>
<text x="61.0" y="608.6" font-size="22.5" text-anchor="middle" fill="#000">0</text>
<text x="141.5" y="608.6" font-size="22.5" text-anchor="middle" fill="#000">200</text>
<text x="222.0" y="608.6" font-size="22.5" text-anchor="middle" fill="#000">400</text>
<text x="302.5" y="608.6" font-size="22.5" text-anchor="middle" fill="#000">600</text>
<text x="383.0" y="608.6" font-size="22.5" text-anchor="middle" fill="#000">800</text>
<text x="463.5" y="608.6" font-size="22.5" text-anchor="middle" fill="#000">1000</text>
<text x="544.0" y="608.6" font-size="22.5" text-anchor="middle" fill="#000">1200</text>
<text x="624.5" y="608.6" font-size="22.5" text-anchor="middle" fill="#000">1400</text>
<text x="705.0" y="608.6" font-size="22.5" text-anchor="middle" fill="#000">1600</text>
<text x="785.5" y="608.6" font-size="22.5" text-anchor="middle" fill="#000">1800</text>
<text x="424" y="645" font-size="22" text-anchor="middle" fill="#000">Distance(m)</text>
<text transform="translate(15.2,292.4) rotate(-90) scale(0.955,1)" font-size="23" text-anchor="middle" fill="#000">Temperature(&#176;C)</text>
</svg></body></html>
